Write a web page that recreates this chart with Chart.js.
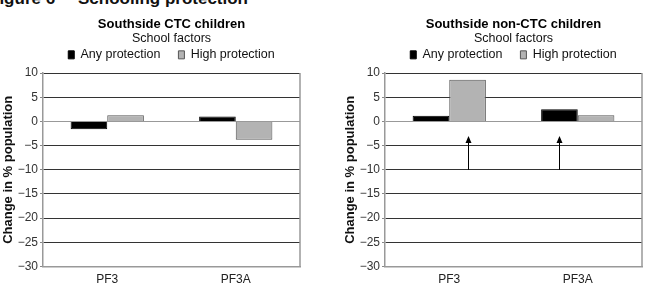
<!DOCTYPE html>
<html>
<head>
<meta charset="utf-8">
<script src="https://cdn.jsdelivr.net/npm/chart.js@4.4.1/dist/chart.umd.min.js"></script>
<style>
  html, body { margin: 0; padding: 0; background: #fff; }
  body { width: 649px; height: 288px; position: relative; overflow: hidden; font-family: "Liberation Sans", Arial, sans-serif; }
  .fig { position: absolute; top: -10px; font-size: 17px; font-weight: bold; line-height: 17px; color: #111; white-space: nowrap; }
  .box { position: absolute; top: 0; height: 288px; }
</style>
</head>
<body>
<div class="fig" style="left:-11px">Figure 6</div>
<div class="fig" style="left:78px">Schooling protection</div>
<div class="box" style="left:0; width:325px"><canvas id="ctcChart" width="325" height="288"></canvas></div>
<div class="box" style="left:325px; width:324px"><canvas id="nonCtcChart" width="324" height="288"></canvas></div>
<script>
// categories and series
var categories = ['PF3', 'PF3A'];
var seriesNames = ['Any protection', 'High protection'];
var ctcAny = [-1.6, 1.0];
var ctcHigh = [1.3, -3.8];
var nonCtcAny = [1.2, 2.5];
var nonCtcHigh = [8.6, 1.3];
var yTicks = [10, 5, 0, -5, -10, -15, -20, -25, -30];
// arrows on the non-CTC chart: [dataset, category, fromValue, toValue]
var nonCtcArrows = [[1, 0, -10, -3], [0, 1, -10, -3]];

var FONT = '"Liberation Sans", Arial, sans-serif';

// a bit more room under the legend
const legendGap = {
    id: 'legendGap',
    beforeLayout(chart) {
        const lg = chart.legend;
        if (lg && !lg._gapPatched) {
            const fit = lg.fit.bind(lg);
            lg.fit = function() { fit(); this.height += 2; };
            lg._gapPatched = true;
        }
    }
};

// grey border on the right side of the plot + the arrows
const frameAndArrows = {
    id: 'frameAndArrows',
    afterDatasetsDraw(chart, args, opts) {
        const { ctx, chartArea: { left, right, top, bottom } } = chart;
        ctx.save();
        ctx.strokeStyle = '#999';
        ctx.lineWidth = 1.5;
        ctx.beginPath();
        ctx.moveTo(right, top);
        ctx.lineTo(right, bottom);
        ctx.stroke();

        const arrows = opts.arrows || [];
        const yScale = chart.scales.y;
        arrows.forEach(a => {
            const bar = chart.getDatasetMeta(a[0]).data[a[1]];
            const x = Math.round(bar.x) + 0.5;
            const y1 = yScale.getPixelForValue(a[2]);
            const y2 = yScale.getPixelForValue(a[3]);
            ctx.strokeStyle = '#000';
            ctx.lineWidth = 1;
            ctx.beginPath();
            ctx.moveTo(x, y1);
            ctx.lineTo(x, y2 + 5);
            ctx.stroke();
            ctx.fillStyle = '#000';
            ctx.beginPath();
            ctx.moveTo(x, y2);
            ctx.lineTo(x - 3, y2 + 7);
            ctx.lineTo(x + 3, y2 + 7);
            ctx.closePath();
            ctx.fill();
        });
        ctx.restore();
    }
};

function buildChart(canvasId, title, anyData, highData, padLeft, padRight, arrows) {
    return new Chart(document.getElementById(canvasId), {
        type: 'bar',
        data: {
            labels: categories,
            datasets: [{
                label: seriesNames[0],
                data: anyData,
                backgroundColor: '#000',
                borderColor: '#000',
                borderWidth: 1,
                categoryPercentage: 0.57,
                barPercentage: 1.0
            }, {
                label: seriesNames[1],
                data: highData,
                backgroundColor: '#b3b3b3',
                borderColor: '#555',
                borderWidth: 1,
                categoryPercentage: 0.57,
                barPercentage: 1.0
            }]
        },
        options: {
            responsive: false,
            animation: false,
            layout: { padding: { left: padLeft, right: padRight, top: 0, bottom: 0 } },
            plugins: {
                title: {
                    display: true,
                    text: title,
                    fullSize: false,
                    color: '#000',
                    font: { family: FONT, size: 13, weight: 'bold' },
                    padding: { top: 17, bottom: -3 }
                },
                subtitle: {
                    display: true,
                    text: 'School factors',
                    fullSize: false,
                    color: '#111',
                    font: { family: FONT, size: 12.5 },
                    padding: { top: 1, bottom: -15 }
                },
                legend: {
                    display: true,
                    fullSize: false,
                    labels: {
                        color: '#111',
                        font: { family: FONT, size: 12.5 },
                        boxWidth: 6,
                        boxHeight: 8,
                        padding: 18
                    }
                },
                tooltip: { enabled: false },
                frameAndArrows: { arrows: arrows }
            },
            scales: {
                x: {
                    afterFit: s => { s.height = 21.5; },
                    grid: { display: false, drawTicks: false },
                    border: { display: true, color: '#999', width: 1.5 },
                    ticks: { color: '#222', font: { family: FONT, size: 12 }, padding: 6 }
                },
                y: {
                    min: -30,
                    max: 10,
                    afterFit: s => { s.width = 43; },
                    afterBuildTicks: s => { s.ticks = yTicks.map(v => ({ value: v })); },
                    grid: {
                        drawTicks: true,
                        tickLength: 3,
                        tickColor: '#888',
                        color: c => (c.tick && (c.tick.value === 0 || c.tick.value === -30)) ? '#999' : '#333',
                        lineWidth: 1
                    },
                    border: { display: true, color: '#999', width: 1.5 },
                    ticks: {
                        color: '#333',
                        font: { family: FONT, size: 12 },
                        padding: 2,
                        callback: v => String(v).replace('-', '\u2212')
                    },
                    title: {
                        display: true,
                        text: 'Change in % population',
                        color: '#111',
                        font: { family: FONT, size: 13, weight: 'bold' },
                        padding: { top: 1, bottom: 0 }
                    }
                }
            }
        },
        plugins: [legendGap, frameAndArrows]
    });
}

buildChart('ctcChart', 'Southside CTC children', ctcAny, ctcHigh, 0, 25, []);
buildChart('nonCtcChart', 'Southside non-CTC children', nonCtcAny, nonCtcHigh, 17, 7, nonCtcArrows);
</script>
</body>
</html>
